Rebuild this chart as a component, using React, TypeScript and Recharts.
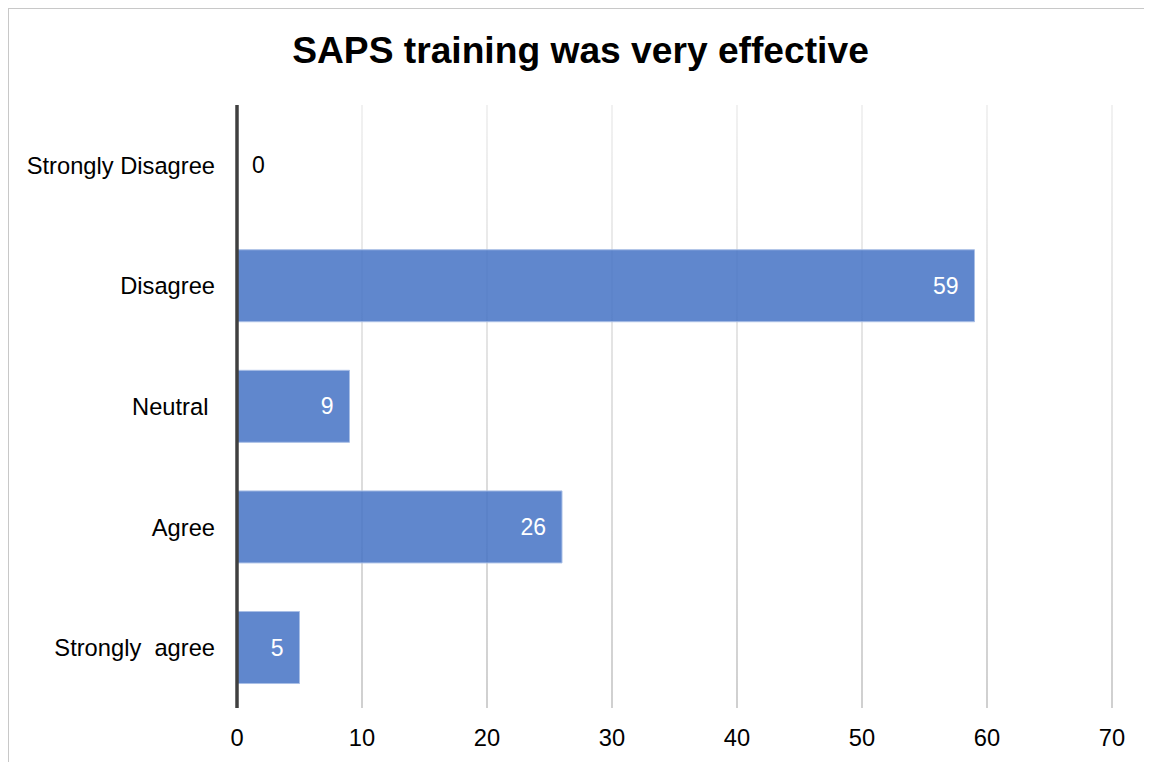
import React from 'react';
import { BarChart, Bar, XAxis, YAxis, CartesianGrid, LabelList } from 'recharts';

// survey responses
const categories = ['Strongly Disagree', 'Disagree', 'Neutral ', 'Agree', 'Strongly  agree'];
const counts = [0, 59, 9, 26, 5];
const xTicks = [0, 10, 20, 30, 40, 50, 60, 70];

const data = categories.map((name, i) => ({ name, value: counts[i] }));

const FONT = '"Liberation Sans", Arial, sans-serif';
const EDGE = 1.5;

function CategoryTick(props: any) {
  const { x, y, payload } = props;
  return (
    <text x={x} y={y} dy="0.355em" textAnchor="end" fontSize={23.7} fill="#000" fontFamily={FONT} xmlSpace="preserve" style={{ whiteSpace: 'pre' }}>
      {payload.value}
    </text>
  );
}

function ValueLabel(props: any) {
  const { x, y, width, height, value } = props;
  const cy = Number(y) + Number(height) / 2;
  const v = Number(value);
  if (!v) {
    return (
      <text x={Number(x) + 15} y={cy} dy="0.355em" textAnchor="start" fontSize={23} fill="#000" fontFamily={FONT}>
        {String(value ?? 0)}
      </text>
    );
  }
  return (
    <text x={Number(x) + Number(width) - 16} y={cy} dy="0.355em" textAnchor="end" fontSize={23} fill="#fff" fontFamily={FONT}>
      {String(value)}
    </text>
  );
}

export default function App() {
  // frame starts at the body margin (8,8); contents are shifted back to page origin
  return (
    <div
      style={{
        position: 'relative',
        width: 1144,
        height: 754,
        boxSizing: 'border-box',
        borderLeft: `${EDGE}px solid #c8c8c8`,
        borderTop: `${EDGE}px solid #c8c8c8`,
        fontFamily: FONT,
      }}
    >
      <style>{'html, body { overflow: hidden; }'}</style>
      <div style={{ position: 'absolute', left: -8 - EDGE, top: 32 - 8 - EDGE, width: 1162, textAlign: 'center', fontSize: 37.2, lineHeight: '37px', fontWeight: 'bold', color: '#000' }}>
        SAPS training was very effective
      </div>
      <div style={{ position: 'absolute', left: -8 - EDGE, top: -8 - EDGE }}>
        <BarChart width={1152} height={762} data={data} layout="vertical" margin={{ top: 105, right: 40, bottom: 24, left: 0 }} barCategoryGap="20%">
          <defs>
            <linearGradient id="gridFade" gradientUnits="userSpaceOnUse" x1="0" y1="105" x2="0" y2="708">
              <stop offset="0%" stopColor="#e8e8e8" />
              <stop offset="100%" stopColor="#b0b0b0" />
            </linearGradient>
          </defs>
          <CartesianGrid horizontal={false} stroke="url(#gridFade)" strokeWidth={1.2} />
          <XAxis
            type="number"
            domain={[0, 70]}
            ticks={xTicks}
            height={30}
            axisLine={false}
            tickLine={false}
            tickSize={0}
            tickMargin={21}
            tick={{ fontSize: 23.7, fill: '#000', fontFamily: FONT }}
          />
          <YAxis
            type="category"
            dataKey="name"
            width={237}
            axisLine={{ stroke: '#404040', strokeWidth: 3.5 }}
            tickLine={false}
            tickSize={0}
            tickMargin={22}
            tick={<CategoryTick />}
          />
          <Bar dataKey="value" fill="#4472c4" fillOpacity={0.85} stroke="#a9bfe6" strokeWidth={1} minPointSize={0.01} isAnimationActive={false}>
            <LabelList dataKey="value" content={<ValueLabel />} />
          </Bar>
        </BarChart>
      </div>
    </div>
  );
}
